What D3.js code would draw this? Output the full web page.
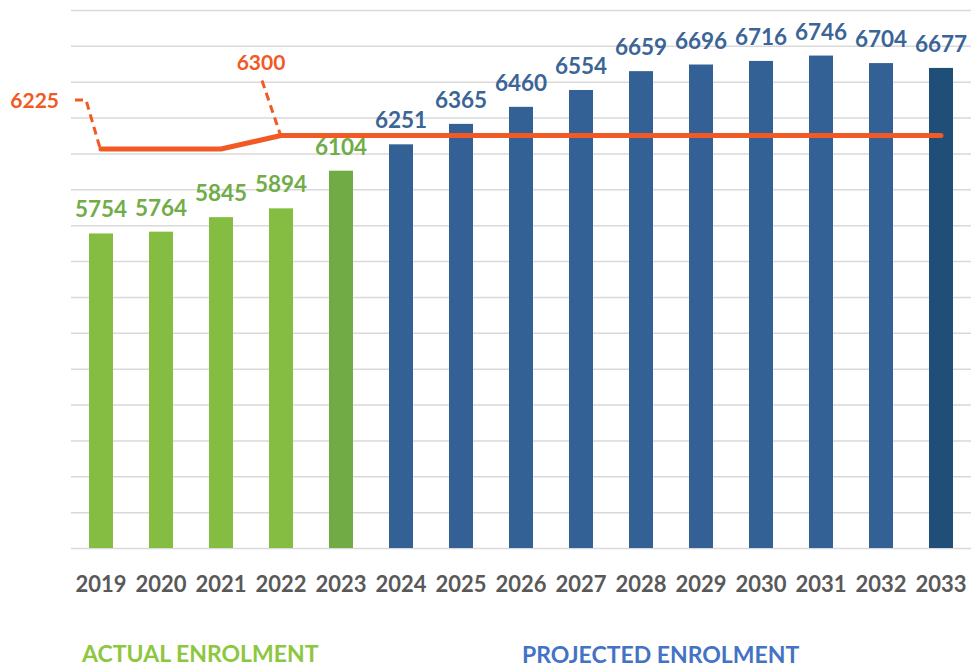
<!DOCTYPE html>
<html>
<head>
<meta charset="utf-8">
<script src="https://cdn.jsdelivr.net/npm/d3@7"></script>
<style>
  body { margin: 0; background: #fff; }
  svg { display: block; font-family: Lato, "Open Sans", sans-serif; font-weight: 700; }
</style>
</head>
<body>
<svg id="chart" width="974" height="668"></svg>
<script>
// --- Data ---
const years = ['2019', '2020', '2021', '2022', '2023', '2024', '2025', '2026',
               '2027', '2028', '2029', '2030', '2031', '2032', '2033'];
const enrolment = [5754, 5764, 5845, 5894, 6104, 6251, 6365, 6460,
                   6554, 6659, 6696, 6716, 6746, 6704, 6677];
const capacity = [6225, 6225, 6225, 6300, 6300, 6300, 6300, 6300,
                  6300, 6300, 6300, 6300, 6300, 6300, 6300];
const actualYears = ['2019', '2020', '2021', '2022', '2023'];
const yDomain = [4000, 7000];
const gridStep = 200;

// --- Styles ---
const GREEN = '#84bd41', GREEN_DARK = '#70ab46', GREEN_TEXT = '#70ad47';
const BLUE = '#336196', BLUE_DARK = '#1f4e79', BLUE_TEXT = '#3b6596';
const ORANGE = '#f15a24';

const svg = d3.select('#chart');
const PLOT = { left: 71, right: 971, top: 10, bottom: 548 };

const x = d3.scaleBand()
    .domain(years)
    .range([PLOT.left, PLOT.right])
    .paddingInner(0.6)
    .paddingOuter(0.3);

const y = d3.scaleLinear()
    .domain(yDomain)
    .range([PLOT.bottom, PLOT.top]);

const cx = d => x(d) + x.bandwidth() / 2;
const isActual = yr => actualYears.includes(yr);

// --- Gridlines ---
const grid = svg.append('g')
    .attr('transform', `translate(${PLOT.left},0)`)
    .call(d3.axisLeft(y)
        .tickValues(d3.range(yDomain[0], yDomain[1] + 1, gridStep))
        .tickSize(-(PLOT.right - PLOT.left))
        .tickFormat(''));
grid.select('.domain').remove();
grid.selectAll('line').attr('stroke', '#d9d9d9').attr('stroke-width', 1.5);

// --- Bars ---
const rows = years.map((yr, i) => ({ yr, v: enrolment[i], cap: capacity[i] }));

function barColor(d, i) {
    if (d.yr === '2023') return GREEN_DARK;
    if (i === years.length - 1) return BLUE_DARK;
    return isActual(d.yr) ? GREEN : BLUE;
}

svg.append('g').selectAll('rect')
    .data(rows)
    .join('rect')
    .attr('x', d => x(d.yr))
    .attr('width', x.bandwidth())
    .attr('y', d => y(d.v))
    .attr('height', d => y(yDomain[0]) - y(d.v))
    .attr('fill', barColor);

// --- Bar labels ---
svg.append('g').selectAll('text')
    .data(rows)
    .join('text')
    .attr('x', d => cx(d.yr))
    .attr('y', d => y(d.v) - 16)
    .attr('text-anchor', 'middle')
    .attr('font-size', 22.5)
    .attr('fill', d => isActual(d.yr) ? GREEN_TEXT : BLUE_TEXT)
    .text(d => d.v);

// --- Capacity line ---
const line = d3.line()
    .x(d => cx(d.yr))
    .y(d => y(d.cap));

svg.append('path')
    .datum(rows)
    .attr('d', line)
    .attr('fill', 'none')
    .attr('stroke', ORANGE)
    .attr('stroke-width', 5)
    .attr('stroke-linecap', 'round')
    .attr('stroke-linejoin', 'round');

// capacity callouts with dashed leaders (offsets from the point)
const callouts = [
    { i: 0, dx: -42, dy: -41, anchor: 'end', leader: [[-26, -49], [-15, -49], [-1, -1]] },
    { i: 3, dx: -20, dy: -66, anchor: 'middle', leader: [[-19, -55], [-1, -2]] }
];

callouts.forEach(c => {
    const d = rows[c.i];
    const px = cx(d.yr), py = y(d.cap);
    svg.append('path')
        .attr('d', d3.line()(c.leader.map(([ox, oy]) => [px + ox, py + oy])))
        .attr('fill', 'none')
        .attr('stroke', ORANGE)
        .attr('stroke-width', 3)
        .attr('stroke-dasharray', '8,5');
    svg.append('text')
        .attr('x', px + c.dx)
        .attr('y', py + c.dy)
        .attr('text-anchor', c.anchor)
        .attr('font-size', 21)
        .attr('fill', ORANGE)
        .text(d.cap);
});

// --- X axis labels ---
const xAxis = svg.append('g')
    .attr('transform', `translate(0,${PLOT.bottom})`)
    .call(d3.axisBottom(x).tickSize(0).tickPadding(28));
xAxis.select('.domain').remove();
xAxis.selectAll('text')
    .attr('font-family', 'Lato, "Open Sans", sans-serif')
    .attr('font-weight', 700)
    .attr('font-size', 22)
    .attr('fill', '#595959');

// --- Group captions ---
svg.append('text')
    .attr('x', 82).attr('y', 662)
    .attr('font-size', 23)
    .attr('fill', '#8dc63f')
    .text('ACTUAL ENROLMENT');

svg.append('text')
    .attr('x', 522).attr('y', 663)
    .attr('font-size', 23)
    .attr('fill', '#4472c4')
    .text('PROJECTED ENROLMENT');
</script>
</body>
</html>
